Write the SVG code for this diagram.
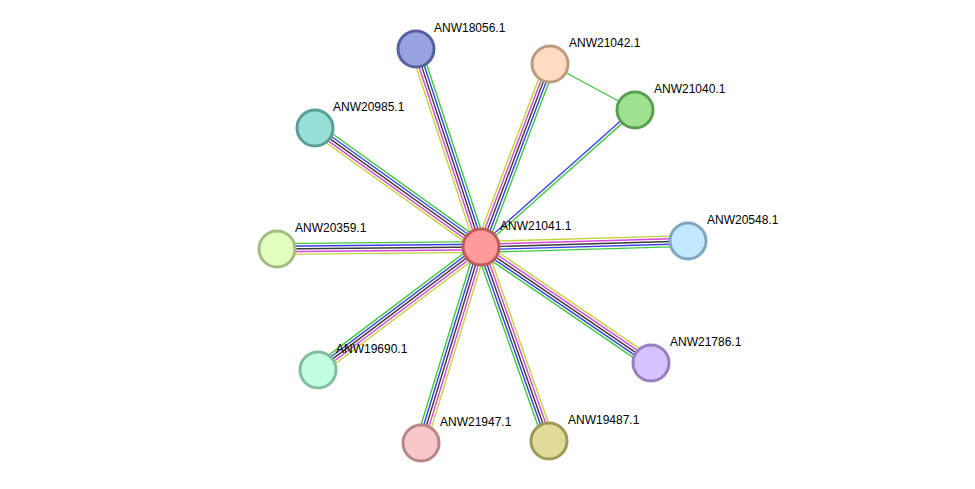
<svg xmlns="http://www.w3.org/2000/svg" width="975" height="489" viewBox="0 0 975 489">
<style>
.g{stroke:#3fc93f}.b{stroke:#3d3dee}.k{stroke:#3a3a3a}.m{stroke:#d846d8}.y{stroke:#c4d33c}
line{stroke-width:1.4;fill:none}
circle{stroke-width:3}
text{font-family:"Liberation Sans",Arial,sans-serif;font-size:12px;fill:#000}
</style>
<rect width="975" height="489" fill="#fff"/>
<g id="connectors">
<line class="g" x1="550" y1="64" x2="635" y2="110"/>
<g transform="translate(481,247) rotate(-41.66)">
<line class="g" x1="0" y1="1.4" x2="206" y2="1.4"/>
<line class="b" x1="0" y1="-1.4" x2="206" y2="-1.4"/>
</g>
<g transform="translate(481,247) rotate(-108.17)">
<line class="g" x1="0" y1="5.4" x2="208" y2="5.4"/><line class="b" x1="0" y1="2.7" x2="208" y2="2.7"/><line class="k" x1="0" y1="0" x2="208" y2="0"/><line class="m" x1="0" y1="-2.7" x2="208" y2="-2.7"/><line class="y" x1="0" y1="-5.4" x2="208" y2="-5.4"/>
</g>
<g transform="translate(481,247) rotate(-69.34)">
<line class="g" x1="0" y1="5.4" x2="196" y2="5.4"/><line class="b" x1="0" y1="2.7" x2="196" y2="2.7"/><line class="k" x1="0" y1="0" x2="196" y2="0"/><line class="m" x1="0" y1="-2.7" x2="196" y2="-2.7"/><line class="y" x1="0" y1="-5.4" x2="196" y2="-5.4"/>
</g>
<g transform="translate(481,247) rotate(-144.37)">
<line class="g" x1="0" y1="5.4" x2="204" y2="5.4"/><line class="b" x1="0" y1="2.7" x2="204" y2="2.7"/><line class="k" x1="0" y1="0" x2="204" y2="0"/><line class="m" x1="0" y1="-2.7" x2="204" y2="-2.7"/><line class="y" x1="0" y1="-5.4" x2="204" y2="-5.4"/>
</g>
<g transform="translate(481,247) rotate(179.44)">
<line class="g" x1="0" y1="5.4" x2="204" y2="5.4"/><line class="b" x1="0" y1="2.7" x2="204" y2="2.7"/><line class="k" x1="0" y1="0" x2="204" y2="0"/><line class="m" x1="0" y1="-2.7" x2="204" y2="-2.7"/><line class="y" x1="0" y1="-5.4" x2="204" y2="-5.4"/>
</g>
<g transform="translate(481,247) rotate(-1.66)">
<line class="g" x1="0" y1="5.4" x2="207" y2="5.4"/><line class="b" x1="0" y1="2.7" x2="207" y2="2.7"/><line class="k" x1="0" y1="0" x2="207" y2="0"/><line class="m" x1="0" y1="-2.7" x2="207" y2="-2.7"/><line class="y" x1="0" y1="-5.4" x2="207" y2="-5.4"/>
</g>
<g transform="translate(481,247) rotate(34.31)">
<line class="g" x1="0" y1="5.4" x2="206" y2="5.4"/><line class="b" x1="0" y1="2.7" x2="206" y2="2.7"/><line class="k" x1="0" y1="0" x2="206" y2="0"/><line class="m" x1="0" y1="-2.7" x2="206" y2="-2.7"/><line class="y" x1="0" y1="-5.4" x2="206" y2="-5.4"/>
</g>
<g transform="translate(481,247) rotate(70.68)">
<line class="g" x1="0" y1="5.4" x2="206" y2="5.4"/><line class="b" x1="0" y1="2.7" x2="206" y2="2.7"/><line class="k" x1="0" y1="0" x2="206" y2="0"/><line class="m" x1="0" y1="-2.7" x2="206" y2="-2.7"/><line class="y" x1="0" y1="-5.4" x2="206" y2="-5.4"/>
</g>
<g transform="translate(481,247) rotate(106.98)">
<line class="g" x1="0" y1="5.4" x2="205" y2="5.4"/><line class="b" x1="0" y1="2.7" x2="205" y2="2.7"/><line class="k" x1="0" y1="0" x2="205" y2="0"/><line class="m" x1="0" y1="-2.7" x2="205" y2="-2.7"/><line class="y" x1="0" y1="-5.4" x2="205" y2="-5.4"/>
</g>
<g transform="translate(481,247) rotate(142.96)">
<line class="g" x1="0" y1="5.4" x2="204" y2="5.4"/><line class="b" x1="0" y1="2.7" x2="204" y2="2.7"/><line class="k" x1="0" y1="0" x2="204" y2="0"/><line class="m" x1="0" y1="-2.7" x2="204" y2="-2.7"/><line class="y" x1="0" y1="-5.4" x2="204" y2="-5.4"/>
</g>
</g>
<g id="ANW21041.1"><circle cx="481" cy="247" r="18" fill="#ff9a9a" stroke="#c05a5a"/><text x="500" y="230">ANW21041.1</text></g>
<g id="ANW18056.1"><circle cx="416" cy="49" r="18" fill="#98a4e2" stroke="#56609e"/><text x="434" y="32">ANW18056.1</text></g>
<g id="ANW21042.1"><circle cx="550" cy="64" r="18" fill="#ffdcc0" stroke="#bc9c80"/><text x="569" y="47">ANW21042.1</text></g>
<g id="ANW21040.1"><circle cx="635" cy="110" r="18" fill="#9ee290" stroke="#5a9e50"/><text x="654" y="93">ANW21040.1</text></g>
<g id="ANW20985.1"><circle cx="315" cy="128" r="18" fill="#96e0d6" stroke="#5a9e96"/><text x="333" y="111">ANW20985.1</text></g>
<g id="ANW20359.1"><circle cx="277" cy="249" r="18" fill="#e2ffc0" stroke="#a0be80"/><text x="295" y="232">ANW20359.1</text></g>
<g id="ANW20548.1"><circle cx="688" cy="241" r="18" fill="#c2e8ff" stroke="#80a6c0"/><text x="707" y="224">ANW20548.1</text></g>
<g id="ANW21786.1"><circle cx="651" cy="363" r="18" fill="#d6c2ff" stroke="#9880c0"/><text x="670" y="346">ANW21786.1</text></g>
<g id="ANW19487.1"><circle cx="549" cy="441" r="18" fill="#e0dc98" stroke="#9e9a56"/><text x="568" y="424">ANW19487.1</text></g>
<g id="ANW21947.1"><circle cx="421" cy="443" r="18" fill="#f8c8c8" stroke="#b88686"/><text x="440" y="426">ANW21947.1</text></g>
<g id="ANW19690.1"><circle cx="318" cy="370" r="18" fill="#c2ffe0" stroke="#80be9e"/><text x="336" y="353">ANW19690.1</text></g>
</svg>
